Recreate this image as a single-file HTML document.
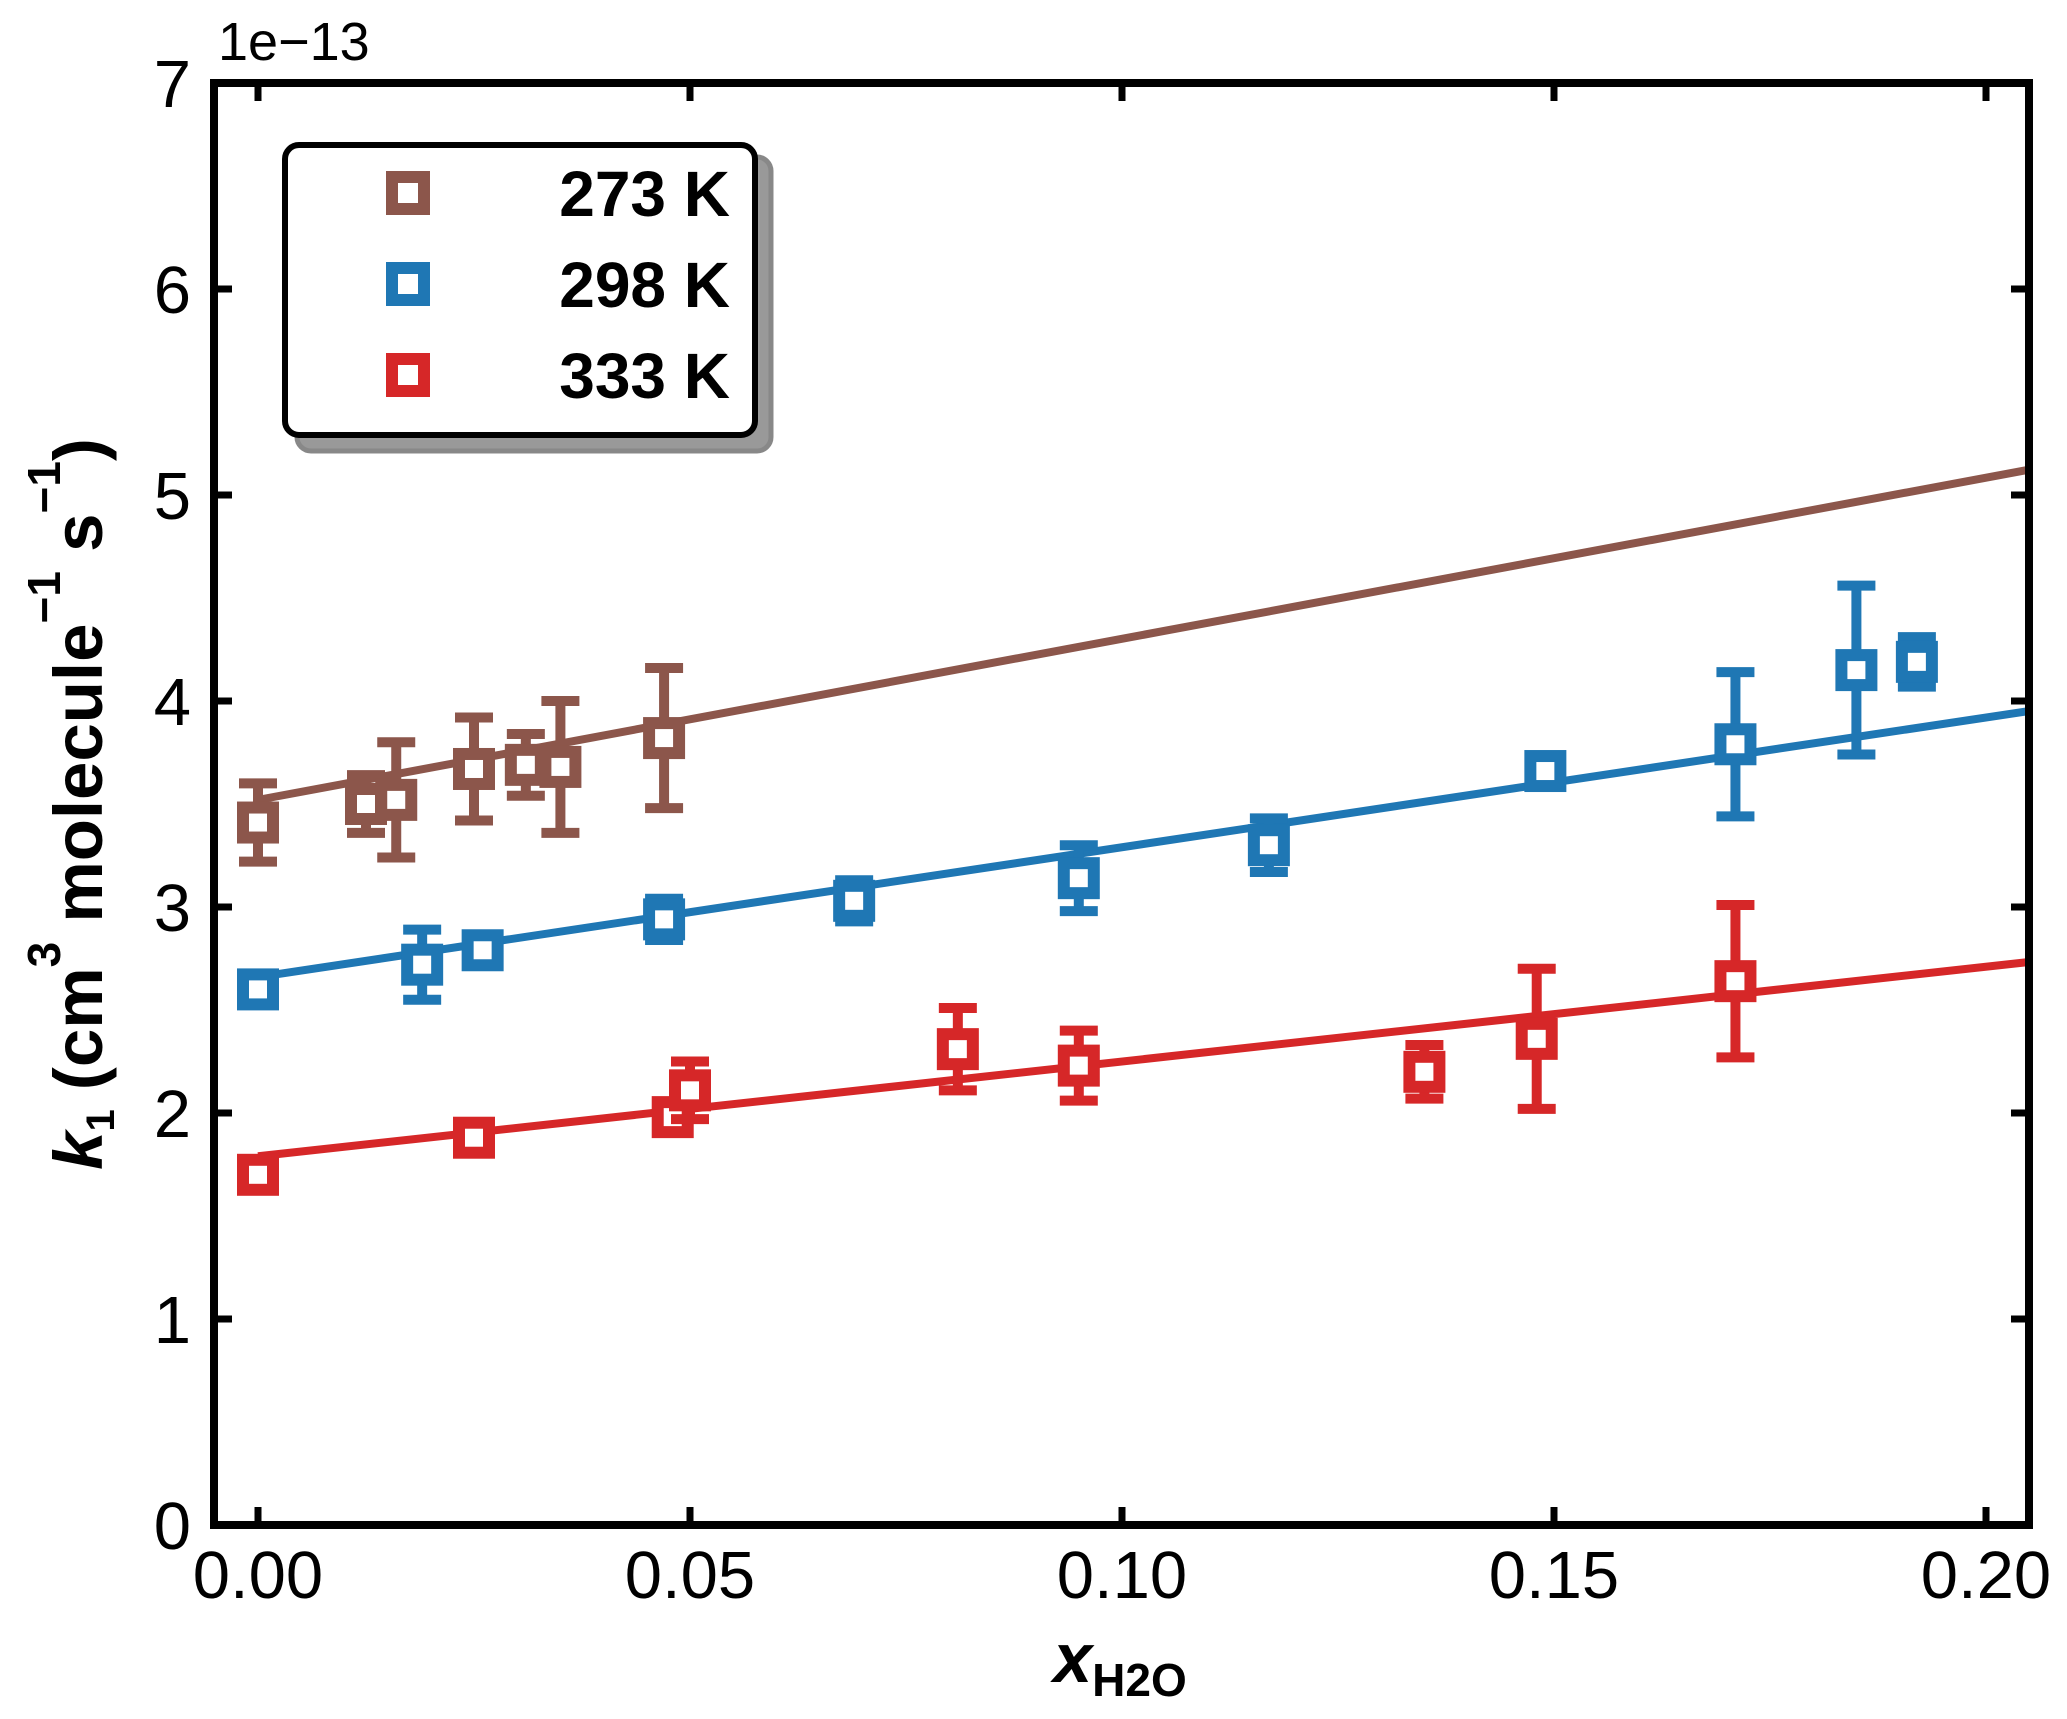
<!DOCTYPE html>
<html><head><meta charset="utf-8"><style>
html,body{margin:0;padding:0;background:#fff}
svg{display:block;font-family:"Liberation Sans",Arial,sans-serif}
</style></head><body>
<svg id="chart" width="2067" height="1719" viewBox="0 0 2067 1719" xmlns="http://www.w3.org/2000/svg">
<rect width="2067" height="1719" fill="#fff"/>
<g id="plot"></g>
<g id="axes"></g>
<text x="218" y="60" font-size="54">1e−13</text>
<text transform="translate(102,804) rotate(-90)" text-anchor="middle" font-size="69" font-weight="bold"><tspan font-style="italic">k</tspan><tspan font-size="40" dy="12">1</tspan><tspan dy="-12"> (cm</tspan><tspan font-size="46" dy="-42">3</tspan><tspan dy="42"> molecule</tspan><tspan font-size="46" dy="-42">−1</tspan><tspan dy="42"> s</tspan><tspan font-size="46" dy="-42">−1</tspan><tspan dy="42">)</tspan></text>
<text x="1120" y="1682" text-anchor="middle" font-size="70" font-weight="bold"><tspan font-style="italic">x</tspan><tspan font-size="46" dy="14">H2O</tspan></text>
<g>
<rect x="297" y="157" width="474" height="294" rx="14" fill="#999" stroke="#888" stroke-width="5"/>
<rect x="285" y="145" width="470" height="290" rx="14" fill="#fff" stroke="#000" stroke-width="6"/>
<g id="legend-items"></g>
</g>
</svg>
<script>
const categories = ["273 K","298 K","333 K"];
const colors = ["#8c564b","#1f77b4","#d62728"];
const x273 = [0.000,0.0125,0.016,0.025,0.031,0.035,0.047];
const y273 = [3.41,3.50,3.52,3.67,3.69,3.68,3.82];
const e273 = [0.19,0.14,0.28,0.25,0.15,0.32,0.34];
const x298 = [0.000,0.019,0.026,0.047,0.069,0.095,0.117,0.149,0.171,0.185,0.192];
const y298 = [2.60,2.72,2.79,2.94,3.03,3.14,3.30,3.66,3.79,4.15,4.19];
const e298 = [0.05,0.17,0.05,0.10,0.10,0.16,0.13,0.07,0.35,0.41,0.12];
const x333 = [0.000,0.025,0.048,0.050,0.081,0.095,0.135,0.148,0.171];
const y333 = [1.70,1.88,1.98,2.11,2.31,2.23,2.20,2.36,2.64];
const e333 = [0.04,0.07,0.06,0.14,0.20,0.17,0.13,0.34,0.37];
const fitIntercepts = [3.52,2.66,1.79];
const fitSlopes = [7.82,6.30,4.60];
const xTicks = [0,0.05,0.10,0.15,0.20];
const xTickLabels = ["0.00","0.05","0.10","0.15","0.20"];
const yTicks = [0,1,2,3,4,5,6,7];
const yTickLabels = ["0","1","2","3","4","5","6","7"];

const L=214,R=2029,T=83,B=1525;
const X=v=>258+v*8640;
const Y=v=>1525-v*206;
const xmin=(L-258)/8640, xmax=(R-258)/8640;
const NS="http://www.w3.org/2000/svg";
function mk(tag,attrs,parent){const e=document.createElementNS(NS,tag);for(const k in attrs)e.setAttribute(k,attrs[k]);parent.appendChild(e);return e;}
const plot=document.getElementById('plot'), axes=document.getElementById('axes');
const series=[[x273,y273,e273],[x298,y298,e298],[x333,y333,e333]];
series.forEach((s,si)=>{
  const c=colors[si];
  const g=mk('g',{},plot);
  
  
  const ln=mk('line',{x1:X(0),y1:Y(fitIntercepts[si]),x2:R,y2:Y(fitIntercepts[si]+fitSlopes[si]*xmax),stroke:c,'stroke-width':8},g);
  
  
  s[0].forEach((xv,i)=>{
    const px=X(xv), py=Y(s[1][i]), e=s[2][i];
    const eb=mk('path',{d:`M${px},${Y(s[1][i]+e)}V${Y(s[1][i]-e)}M${px-19},${Y(s[1][i]+e)}H${px+19}M${px-19},${Y(s[1][i]-e)}H${px+19}`,stroke:c,'stroke-width':10,fill:'none'},g);
    
    
    const m=mk('rect',{x:px-15,y:py-15,width:30,height:30,fill:'#fff',stroke:c,'stroke-width':12},g);
    
    
  });
});
const fr=mk('rect',{x:L,y:T,width:R-L,height:B-T,fill:'none',stroke:'#000','stroke-width':8},axes);


xTicks.forEach((v,i)=>{
  const t=mk('path',{d:`M${X(v)},${B}v-18M${X(v)},${T}v18`,stroke:'#000','stroke-width':7},axes);
  
  
  const tx=mk('text',{x:X(v),y:1598,'text-anchor':'middle','font-size':67},axes);
  tx.textContent=xTickLabels[i];
  
  
});
yTicks.forEach((v,i)=>{
  const t=mk('path',{d:`M${L},${Y(v)}h18M${R},${Y(v)}h-18`,stroke:'#000','stroke-width':7},axes);
  
  
  const tx=mk('text',{x:191,y:Y(v)+24,'text-anchor':'end','font-size':67},axes);
  tx.textContent=yTickLabels[i];
  
  
});
const lg=document.getElementById('legend-items');
categories.forEach((c,i)=>{
  const cy=193+i*91;
  const g=mk('g',{},lg);
  
  
  mk('rect',{x:392,y:cy-16,width:32,height:32,fill:'#fff',stroke:colors[i],'stroke-width':12},g);
  const t=mk('text',{x:730,y:cy+23,'text-anchor':'end','font-size':64,'font-weight':'bold'},g);
  t.textContent=c;
});
</script>
</body></html>
